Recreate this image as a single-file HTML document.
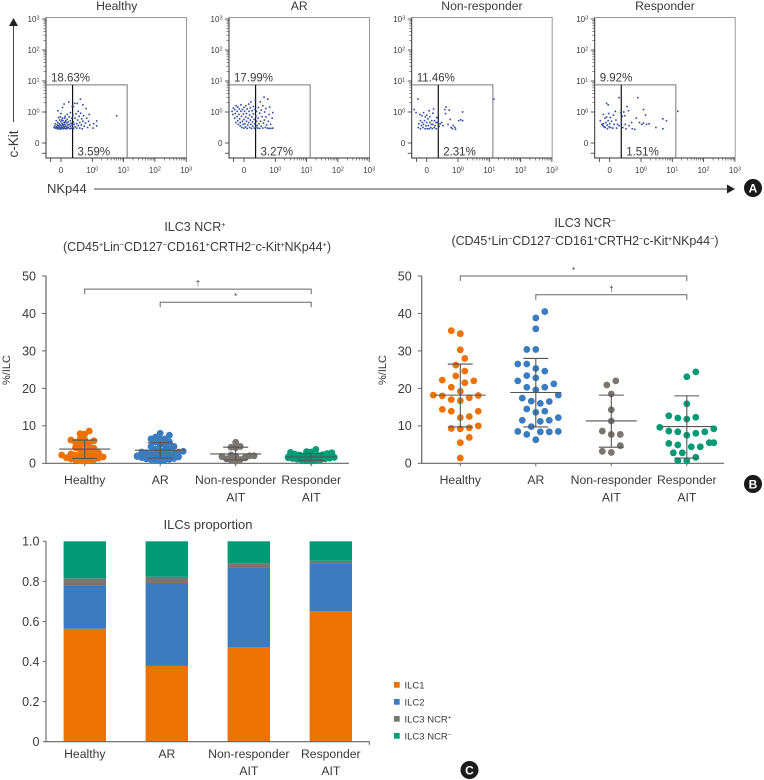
<!DOCTYPE html>
<html lang="en">
<head>
<meta charset="utf-8">
<title>ILC3 flow cytometry and proportions</title>
<style>
html,body{margin:0;padding:0;background:#fff;width:764px;height:780px;overflow:hidden}
svg{display:block;font-family:"Liberation Sans",sans-serif}
text{fill:#3a3a3a}
.sup{font-size:7.5px}
</style>
</head>
<body>
<svg id="figure" width="764" height="780" viewBox="0 0 764 780" xmlns="http://www.w3.org/2000/svg">
  <g id="panelA"></g>
  <g>
    <line x1="13.5" y1="122" x2="13.5" y2="24" stroke="#444" stroke-width="1"/>
    <polygon points="13.5,18 9,26 18,26" fill="#222"/>
    <text transform="translate(18,144) rotate(-90)" text-anchor="middle" font-size="13.5">c-Kit</text>
  </g>
  <g>
    <text x="47" y="193" font-size="13">NKp44</text>
    <line x1="94" y1="189" x2="728" y2="189" stroke="#444" stroke-width="1"/>
    <polygon points="735,189 727,184.5 727,193.5" fill="#222"/>
  </g>

  <g>
    <text x="195" y="231" text-anchor="middle" font-size="12.5">ILC3 NCR<tspan class="sup" dy="-4">+</tspan></text>
    <text x="197" y="251" text-anchor="middle" font-size="12.5" textLength="268">(CD45<tspan class="sup" dy="-4">+</tspan><tspan dy="4">Lin</tspan><tspan class="sup" dy="-4">−</tspan><tspan dy="4">CD127</tspan><tspan class="sup" dy="-4">−</tspan><tspan dy="4">CD161</tspan><tspan class="sup" dy="-4">+</tspan><tspan dy="4">CRTH2</tspan><tspan class="sup" dy="-4">−</tspan><tspan dy="4">c-Kit</tspan><tspan class="sup" dy="-4">+</tspan><tspan dy="4">NKp44</tspan><tspan class="sup" dy="-4">+</tspan><tspan dy="4">)</tspan></text>
    <text transform="translate(10,370) rotate(-90)" text-anchor="middle" font-size="11">%/ILC</text>
    <g id="chartLeft"></g>
  </g>

  <g>
    <text x="585" y="227" text-anchor="middle" font-size="12.5">ILC3 NCR<tspan class="sup" dy="-4">−</tspan></text>
    <text x="585" y="245" text-anchor="middle" font-size="12.5" textLength="267">(CD45<tspan class="sup" dy="-4">+</tspan><tspan dy="4">Lin</tspan><tspan class="sup" dy="-4">−</tspan><tspan dy="4">CD127</tspan><tspan class="sup" dy="-4">−</tspan><tspan dy="4">CD161</tspan><tspan class="sup" dy="-4">+</tspan><tspan dy="4">CRTH2</tspan><tspan class="sup" dy="-4">−</tspan><tspan dy="4">c-Kit</tspan><tspan class="sup" dy="-4">+</tspan><tspan dy="4">NKp44</tspan><tspan class="sup" dy="-4">−</tspan><tspan dy="4">)</tspan></text>
    <text transform="translate(386,370) rotate(-90)" text-anchor="middle" font-size="11">%/ILC</text>
    <g id="chartRight"></g>
  </g>

  <g>
    <text x="208" y="529" text-anchor="middle" font-size="13">ILCs proportion</text>
    <g id="chartBars"></g>
    <g>
      <g><rect x="394" y="682" width="5.7" height="5.7" fill="#ee7203"/><text x="404.5" y="688.3" font-size="9.5">ILC1</text></g>
      <g><rect x="394" y="699" width="5.7" height="5.7" fill="#3a7cbf"/><text x="404.5" y="705.3" font-size="9.5">ILC2</text></g>
      <g><rect x="394" y="716" width="5.7" height="5.7" fill="#7b7570"/><text x="404.5" y="722.3" font-size="9.5">ILC3 NCR<tspan font-size="6" dy="-3">+</tspan></text></g>
      <g><rect x="394" y="733" width="5.7" height="5.7" fill="#009a77"/><text x="404.5" y="739.3" font-size="9.5">ILC3 NCR<tspan font-size="6" dy="-3">−</tspan></text></g>
    </g>
  </g>

  <g><circle cx="753" cy="188" r="9" fill="#1a1a1a"/><text x="753" y="192.5" text-anchor="middle" font-size="12" font-weight="bold" style="fill:#fff">A</text></g>
  <g><circle cx="753" cy="484" r="9" fill="#1a1a1a"/><text x="753" y="488.5" text-anchor="middle" font-size="12" font-weight="bold" style="fill:#fff">B</text></g>
  <g><circle cx="469.5" cy="770" r="9" fill="#1a1a1a"/><text x="469.5" y="774.5" text-anchor="middle" font-size="12" font-weight="bold" style="fill:#fff">C</text></g>
</svg>

<script>
/* ---------- Chart data ---------- */
const flowTitles = ['Healthy', 'AR', 'Non-responder', 'Responder'];
const flowUpperGate = ['18.63%', '17.99%', '11.46%', '9.92%'];
const flowLowerGate = ['3.59%', '3.27%', '2.31%', '1.51%'];
const flowMajorTicks = [0, 1, 10, 100, 1000];
const flowTickExponents = ['', '0', '1', '2', '3'];
const flowMinorTicks = [2, 3, 4, 5, 6, 7, 8, 9, 20, 30, 40, 50, 60, 70, 80, 90, 200, 300, 400, 500, 600, 700, 800, 900];
const flowGateX = 0.37;
const flowGateRight = 13;
const flowGateTop = 7.5;

const healthyEvents = [[-.22,.5],[-.2,.55],[-.18,.62],[-.18,.48],[-.15,.72],[-.14,.52],[-.12,.58],[-.12,.46],[-.1,.66],[-.1,.5],[-.08,.82],[-.08,.56],[-.07,.47],[-.05,.62],[-.05,.52],[-.04,.74],[-.03,.45],[-.02,.58],[0,.5],[0,.68],[0,.95],[.02,.55],[.02,.46],[.04,.62],[.05,.8],[.05,.5],[.06,.72],[.08,.56],[.08,.46],[.1,.66],[.1,.52],[.1,1.8],[.12,.6],[.12,.48],[.13,.86],[.15,.72],[.15,.55],[.16,.46],[.18,.64],[.18,.52],[.2,.92],[.2,.76],[.2,.47],[.22,.58],[.23,.68],[.24,.5],[.25,2.1],[.26,.84],[.27,.6],[.28,.46],[.3,.72],[.3,.54],[.3,.98],[.32,.64],[.33,.48],[.34,.8],[.35,.58],[.36,1.5],[.38,.5],[.38,.9],[.4,.68],[.4,.46],[.42,.6],[.44,1.9],[.45,.8],[.45,.52],[.48,.94],[.5,.62],[.5,.48],[.52,1.9],[.53,.74],[.55,.56],[.55,1.05],[.58,.86],[.6,.48],[.6,.66],[.62,2.6],[.63,.96],[.65,.58],[.66,.78],[.68,.46],[.7,.7],[.7,1.7],[.72,.88],[.74,.54],[.78,.64],[.8,1.3],[.82,.8],[.85,.5],[.88,.7],[.9,.92],[.92,.58],[1.05,.48],[1.1,.62],[1.38,.71],[1.38,.55],[6,.88],[-.1,1.1],[.05,1.4],[.4,1.5],[-.15,.5],[-.1,.46],[.0,.46],[.06,.6],[.14,.68],[.22,.5],[.12,.8],[-.02,.84],[.03,.74]];
const arEvents = [[-.38,1.05],[-.36,.92],[-.34,1.35],[-.3,.8],[-.3,1.2],[-.28,.95],[-.26,.66],[-.25,1.6],[-.22,.85],[-.22,1.05],[-.2,.72],[-.2,1.45],[-.18,.6],[-.16,.92],[-.15,1.25],[-.14,.78],[-.12,.55],[-.12,.66],[-.1,1.05],[-.1,1.7],[-.08,.86],[-.07,.5],[-.05,.7],[-.05,1.2],[-.03,.6],[-.02,.94],[0,.48],[0,.76],[0,1.4],[.02,1.05],[.03,.62],[.05,.84],[.05,.52],[.06,1.6],[.08,.7],[.08,.95],[.1,.47],[.1,1.25],[.12,.58],[.13,.8],[.15,1.8],[.15,.66],[.16,1.05],[.18,.5],[.18,.9],[.2,.74],[.2,1.35],[.22,.6],[.22,2.1],[.24,.47],[.25,.84],[.26,1.1],[.27,.68],[.28,.54],[.3,1.5],[.3,.94],[.32,.76],[.33,.48],[.34,.62],[.35,1.2],[.36,2.4],[.38,.86],[.38,.5],[.4,.7],[.4,1.05],[.42,.56],[.44,.48],[.45,.8],[.46,1.4],[.48,.62],[.5,.96],[.5,.47],[.52,2.1],[.53,.7],[.55,.54],[.55,1.15],[.58,.85],[.6,.48],[.6,1.6],[.62,.64],[.64,3],[.65,.74],[.66,1.0],[.68,.5],[.7,1.3],[.7,.84],[.72,.58],[.75,.48],[.76,2.6],[.78,.7],[.8,.92],[.8,.47],[.82,1.45],[.85,.6],[.86,.47],[.9,.8],[.92,.98],[.92,.48]];
const nonResponderEvents = [[-.4,1.2],[-.34,.98],[-.28,2.6],[-.27,.5],[-.25,.62],[-.22,.92],[-.2,.72],[-.2,.46],[-.17,.56],[-.15,.88],[-.14,.66],[-.12,.5],[-.1,.98],[-.1,.6],[-.07,.72],[-.05,.46],[-.04,.84],[-.02,.55],[0,.66],[0,.9],[.02,.46],[.04,.78],[.05,.56],[.08,.46],[.08,1.1],[.1,.66],[.1,.85],[.13,.5],[.15,.6],[.16,.72],[.18,.46],[.2,.96],[.2,.6],[.22,1.25],[.24,.5],[.25,.72],[.27,.56],[.3,.66],[.3,.46],[.32,.82],[.35,.66],[.4,.54],[.43,.62],[.48,.66],[.52,.56],[.58,1.2],[.6,.95],[.62,1.45],[.68,.6],[.72,1.15],[.75,.76],[.78,.5],[.82,.46],[.85,.56],[.9,.5],[.92,.44],[1.05,.72],[1.22,.75],[1.4,1.0],[1.4,.72],[14,2.6]];
const responderEvents = [[-.3,.72],[-.25,.6],[-.22,.56],[-.2,.92],[-.2,.62],[-.18,.52],[-.15,.8],[-.14,.5],[-.12,.66],[-.1,1.9],[-.1,.84],[-.08,.58],[-.07,.46],[-.05,1.7],[-.05,.72],[-.03,.95],[-.02,.52],[0,.62],[.02,.82],[.03,.5],[.06,.7],[.1,.48],[.12,.9],[.14,.6],[.18,1.05],[.2,.74],[.22,.48],[.25,.6],[.3,.56],[.3,2.9],[.35,.98],[.37,.66],[.4,.86],[.42,.5],[.45,1.0],[.48,.88],[.5,.6],[.52,.46],[.55,1.5],[.6,1.1],[.62,.56],[.7,.66],[.72,.46],[.8,.44],[.85,.8],[.9,2.9],[.95,.66],[1.05,.6],[1.2,1.2],[1.2,.64],[1.4,.9],[1.5,.6],[1.8,.62],[3,.5],[5,.78],[5,.46],[6.5,.72],[15,1.05]];
const flowEventSets = [healthyEvents, arEvents, nonResponderEvents, responderEvents];

const groupLabels = ['Healthy', 'AR', 'Non-responder', 'Responder'];
const groupLabelSuffix = ['', '', 'AIT', 'AIT'];
const percentTicks = [0, 10, 20, 30, 40, 50];

const posHealthy = [8.6,7.9,7.8,6.5,6.3,6.2,6.0,5.6,5.3,5.2,5.0,4.2,4.0,3.7,3.7,3.2,2.8,2.5,2.4,2.2,2.2,2.1,2.0,1.9,1.7,1.5,1.4,1.2,1.0,0.9,0.8,0.7,0.6];
const posAR = [8.0,7.5,7.0,6.5,6.4,5.7,5.7,6.5,5.0,5.0,4.5,4.5,4.0,3.8,3.5,3.3,3.2,3.0,3.0,2.8,2.6,2.5,2.4,2.3,2.2,2.0,2.0,1.8,1.7,1.5,1.3,1.2,1.1,1.0,0.9,0.8,0.7];
const posNonResponder = [5.6,4.5,4.3,4.2,2.2,2.0,2.0,1.9,1.8,1.5,1.2,1.0,0.8,0.6];
const posResponder = [3.7,3.1,3.0,2.9,2.8,2.6,2.4,2.3,2.2,2.1,2.0,1.9,1.8,1.7,1.6,1.5,1.4,1.3,1.2,1.1,1.0,0.9,0.8,0.7,0.6];
const posMeans = [3.8, 3.5, 2.5, 1.7];
const posUpperSD = [6.2, 5.5, 4.3, 2.6];
const posLowerSD = [1.3, 1.4, 0.9, 0.8];
const posBracketFrom = [0, 1];
const posBracketTo = [3, 3];
const posBracketLevel = [46.5, 43];
const posBracketMarks = ['†', '*'];

const negHealthy = [35.4,34.6,30.3,28,26.2,24.6,23.3,22.2,22,21.5,20.3,19.2,18.2,18.1,18,17.5,17,16.7,14.4,13.9,13.9,12.5,12.2,10,9.5,9.3,9.2,6.9,5.5,1.4];
const negAR = [40.5,38.8,35.9,30.4,30.4,26.5,26.5,25.3,24.6,23.4,22.8,22,21.2,20.3,20.3,19.6,18.2,17.4,16.6,16.5,16,14.5,13.9,13.6,12.2,11.5,11.5,11.2,9.8,8.5,8.5,8.4,8.4,7.7,6.3];
const negNonResponder = [22,20.9,18.5,14.3,11.3,8.6,7.7,7.7,4.7,3.2,2.9];
const negResponder = [24.4,23.1,15.9,12.7,12.3,12.1,11.8,9.6,9.2,8.6,8.4,8.4,8,7.5,5.5,5.5,5.3,4.9,4.4,4.4,2.8,2.8,1.6,0.7,0.7];
const negMeans = [18.2, 18.9, 11.3, 9.8];
const negUpperSD = [26.5, 28, 18.2, 18];
const negLowerSD = [9.7, 9.7, 4.3, 1.4];
const negBracketFrom = [0, 1];
const negBracketTo = [3, 3];
const negBracketLevel = [50, 45];
const negBracketMarks = ['*', '†'];

const barGroups = ['Healthy', 'AR', 'Non-responder', 'Responder'];
const barGroupSuffix = ['', '', 'AIT', 'AIT'];
const barTickLabels = ['0', '0.2', '0.4', '0.6', '0.8', '1.0'];
const barTickValues = [0, 0.2, 0.4, 0.6, 0.8, 1];
const ilc1Share = [0.564, 0.378, 0.471, 0.652];
const ilc2Share = [0.216, 0.414, 0.396, 0.235];
const ncrPosShare = [0.035, 0.031, 0.023, 0.016];
const ncrNegShare = [0.185, 0.177, 0.110, 0.097];

/* ---------- Helpers ---------- */
const SVGNS = 'http://www.w3.org/2000/svg';
function mk(parent, tag, attrs, txt) {
  const el = document.createElementNS(SVGNS, tag);
  for (const k in attrs) el.setAttribute(k, attrs[k]);
  if (txt !== undefined) el.textContent = txt;
  parent.appendChild(el);
  return el;
}
const INK = '#555';
const COLORS = ['#ee7203', '#3a7cbf', '#7b7570', '#009a77'];

/* ---------- Panel A: flow plots ---------- */
const flowLeft = [46, 229, 411.7, 594.7];
function biex(v) { return v <= 1 ? v : 1 + Math.log10(v); }
function flowX(v, i) { return flowLeft[i] + 15 + 31.3 * biex(v); }
function flowY(v) { return 143 - 31 * biex(v); }

function drawFlow(i) {
  const root = document.getElementById('panelA');
  const g = mk(root, 'g', {});
  
  
  const L = flowLeft[i], R = L + 140.5, T = 17.5, B = 158;

  const title = mk(g, 'text', {x: (L + R) / 2 + (i === 0 ? 0.5 : 0), y: 10, 'text-anchor': 'middle', 'font-size': 12.2}, flowTitles[i]);
  
  

  const frame = mk(g, 'path', {d: `M${L} ${T}H${R}V${B}`, fill: 'none', stroke: '#999', 'stroke-width': 1});
  
  
  const axes = mk(g, 'path', {d: `M${L} ${T}V${B}H${R}`, fill: 'none', stroke: '#333', 'stroke-width': 1});
  
  

  const gateRight = flowX(flowGateRight, i), gateTop = flowY(flowGateTop);
  const gate = mk(g, 'path', {d: `M${L} ${gateTop}H${gateRight}V${B}`, fill: 'none', stroke: '#777', 'stroke-width': 1});
  
  
  const split = mk(g, 'line', {x1: flowX(flowGateX, i), x2: flowX(flowGateX, i), y1: gateTop, y2: B, stroke: '#111', 'stroke-width': 1.2});
  
  

  flowMajorTicks.forEach((t, k) => {
    const yt = mk(g, 'line', {x1: L - 4, x2: L, y1: flowY(t), y2: flowY(t), stroke: '#333', 'stroke-width': 0.8});
    
    
    const xt = mk(g, 'line', {x1: flowX(t, i), x2: flowX(t, i), y1: B, y2: B + 4, stroke: '#333', 'stroke-width': 0.8});
    
    
    const ylab = mk(g, 'text', {x: L - 6.5, y: flowY(t) + 2.8, 'text-anchor': 'end', 'font-size': 8});
    
    
    const xlab = mk(g, 'text', {x: flowX(t, i), y: 173, 'text-anchor': 'middle', 'font-size': 8});
    
    
    [ylab, xlab].forEach(lab => {
      if (t === 0) { lab.textContent = '0'; return; }
      lab.textContent = '10';
      const s = mk(lab, 'tspan', {dy: -2.5, 'font-size': 5.5}, flowTickExponents[k]);
      
      
    });
  });
  flowMinorTicks.forEach(t => {
    const yt = mk(g, 'line', {x1: L - 2.5, x2: L, y1: flowY(t), y2: flowY(t), stroke: '#444', 'stroke-width': 0.6});
    
    
    const xt = mk(g, 'line', {x1: flowX(t, i), x2: flowX(t, i), y1: B, y2: B + 2.5, stroke: '#444', 'stroke-width': 0.6});
    
    
  });
  [-0.33].forEach(t => {
    const yt = mk(g, 'line', {x1: L - 4, x2: L, y1: flowY(t), y2: flowY(t), stroke: '#333', 'stroke-width': 0.8});
    
    
    const xt = mk(g, 'line', {x1: flowX(t, i), x2: flowX(t, i), y1: B, y2: B + 4, stroke: '#333', 'stroke-width': 0.8});
    
    
  });

  flowEventSets[i].forEach(p => {
    const c = mk(g, 'rect', {x: flowX(p[0], i) - 0.8, y: flowY(p[1]) - 0.8, width: 1.6, height: 1.6, fill: '#2f4a9e'});
    
    
  });

  const up = mk(g, 'text', {x: L + 5, y: 81.5, 'font-size': 11.5}, flowUpperGate[i]);
  
  
  const lo = mk(g, 'text', {x: L + 31.5, y: 155.5, 'font-size': 11.5}, flowLowerGate[i]);
  
  
}
flowTitles.forEach((_, i) => drawFlow(i));

/* ---------- Panel B: swarm plots ---------- */
function swarmOffsets(values, scale, minDist, step, maxSlots) {
  const order = values.map((v, i) => i).sort((a, b) => values[a] - values[b]);
  const placed = [];
  const out = new Array(values.length).fill(0);
  let side = 1;
  order.forEach(idx => {
    const y = scale(values[idx]);
    for (let k = 0; k <= maxSlots; k++) {
      const dirs = k === 0 ? [0] : [side * k, -side * k];
      let done = false;
      for (const d of dirs) {
        const x = d * step;
        if (k === maxSlots || placed.every(p => (p.x - x) ** 2 + (p.y - y) ** 2 >= minDist * minDist)) {
          placed.push({x, y});
          out[idx] = x;
          done = true;
          break;
        }
      }
      if (done) break;
    }
    side = -side;
  });
  return out;
}

function drawSwarm(cfg) {
  const root = document.getElementById(cfg.rootId);
  const sx = i => cfg.x0 + i * cfg.dx;
  const sy = v => 463.3 - v * 3.746;

  const yAxis = mk(root, 'path', {d: `M${cfg.axisX} ${sy(50)}V${sy(0)}H${cfg.axisEnd}`, fill: 'none', stroke: '#666', 'stroke-width': 1.2});
  
  

  percentTicks.forEach(t => {
    const tick = mk(root, 'line', {x1: cfg.axisX - 4, x2: cfg.axisX, y1: sy(t), y2: sy(t), stroke: '#666', 'stroke-width': 1});
    
    
    const lab = mk(root, 'text', {x: cfg.axisX - 10, y: sy(t) + 4.4, 'text-anchor': 'end', 'font-size': 12.5}, String(t));
    
    
  });

  groupLabels.forEach((name, i) => {
    const tick = mk(root, 'line', {x1: sx(i), x2: sx(i), y1: sy(0), y2: sy(0) + 3, stroke: '#666', 'stroke-width': 1});
    
    
    const lab = mk(root, 'text', {x: sx(i), y: 484, 'text-anchor': 'middle', 'font-size': 12.2}, name);
    
    
    if (groupLabelSuffix[i]) {
      const lab2 = mk(root, 'text', {x: sx(i), y: 501.5, 'text-anchor': 'middle', 'font-size': 12.2}, groupLabelSuffix[i]);
      
      
    }
  });

  cfg.series.forEach((vals, i) => {
    const off = swarmOffsets(vals, sy, cfg.minDist, cfg.step, cfg.maxSlots);
    vals.forEach((v, j) => {
      const dot = mk(root, 'circle', {cx: sx(i) + off[j], cy: sy(v), r: 3.4, fill: COLORS[i]});
      
      
    });
  });

  cfg.means.forEach((m, i) => {
    const meanLine = mk(root, 'line', {x1: sx(i) - 25.5, x2: sx(i) + 25.5, y1: sy(m), y2: sy(m), stroke: INK, 'stroke-width': 1.1});
    
    
    const stem = mk(root, 'line', {x1: sx(i), x2: sx(i), y1: sy(cfg.upper[i]), y2: sy(cfg.lower[i]), stroke: INK, 'stroke-width': 1.1});
    
    
    [cfg.upper[i], cfg.lower[i]].forEach(v => {
      const cap = mk(root, 'line', {x1: sx(i) - 12.5, x2: sx(i) + 12.5, y1: sy(v), y2: sy(v), stroke: INK, 'stroke-width': 1.1});
      
      
    });
  });

  cfg.brFrom.forEach((from, b) => {
    const y = sy(cfg.brLevel[b]);
    const br = mk(root, 'path', {d: `M${sx(from)} ${y + 5}V${y}H${sx(cfg.brTo[b])}V${y + 5}`, fill: 'none', stroke: '#666', 'stroke-width': 1});
    
    
    const mark = mk(root, 'text', {x: (sx(from) + sx(cfg.brTo[b])) / 2, y: y - 3, 'text-anchor': 'middle', 'font-size': 8}, cfg.brMarks[b]);
    
    
  });
}

drawSwarm({
  rootId: 'chartLeft', x0: 84.7, dx: 75.5, axisX: 46, axisEnd: 349,
  series: [posHealthy, posAR, posNonResponder, posResponder],
  means: posMeans, upper: posUpperSD, lower: posLowerSD,
  brFrom: posBracketFrom, brTo: posBracketTo, brLevel: posBracketLevel, brMarks: posBracketMarks,
  minDist: 4.6, step: 2.3, maxSlots: 10
});
drawSwarm({
  rootId: 'chartRight', x0: 460.3, dx: 75.5, axisX: 421.7, axisEnd: 724,
  series: [negHealthy, negAR, negNonResponder, negResponder],
  means: negMeans, upper: negUpperSD, lower: negLowerSD,
  brFrom: negBracketFrom, brTo: negBracketTo, brLevel: negBracketLevel, brMarks: negBracketMarks,
  minDist: 9, step: 4.5, maxSlots: 6
});

/* ---------- Panel C: stacked bars ---------- */
(function drawBars() {
  const root = document.getElementById('chartBars');
  const bx = i => 84.8 + i * 82;
  const by = v => 741.7 - v * 200.4;
  const stackSeries = [ilc1Share, ilc2Share, ncrPosShare, ncrNegShare];
  const stackNames = ['ilc1', 'ilc2', 'ilc3-ncr-positive', 'ilc3-ncr-negative'];
  barGroups.forEach((name, i) => {
    let base = 0;
    stackSeries.forEach((series, s) => {
      const top = base + series[i];
      const r = mk(root, 'rect', {x: bx(i) - 21.2, y: by(top), width: 42.4, height: by(base) - by(top), fill: COLORS[s]});
      
      
      base = top;
    });
    const lab = mk(root, 'text', {x: bx(i), y: 758, 'text-anchor': 'middle', 'font-size': 12.2}, name);
    
    
    if (barGroupSuffix[i]) {
      const lab2 = mk(root, 'text', {x: bx(i), y: 775, 'text-anchor': 'middle', 'font-size': 12.2}, barGroupSuffix[i]);
      
      
    }
  });
  const axes = mk(root, 'path', {d: `M46 ${by(1)}V${by(0)}H369.3V${by(0) + 3}`, fill: 'none', stroke: '#666', 'stroke-width': 1.1});
  
  
  barTickValues.forEach((t, k) => {
    const tick = mk(root, 'line', {x1: 43, x2: 46, y1: by(t), y2: by(t), stroke: '#666', 'stroke-width': 1});
    
    
    const lab = mk(root, 'text', {x: 39.5, y: by(t) + 4.4, 'text-anchor': 'end', 'font-size': 12.5}, barTickLabels[k]);
    
    
  });
})();
</script>
</body>
</html>
